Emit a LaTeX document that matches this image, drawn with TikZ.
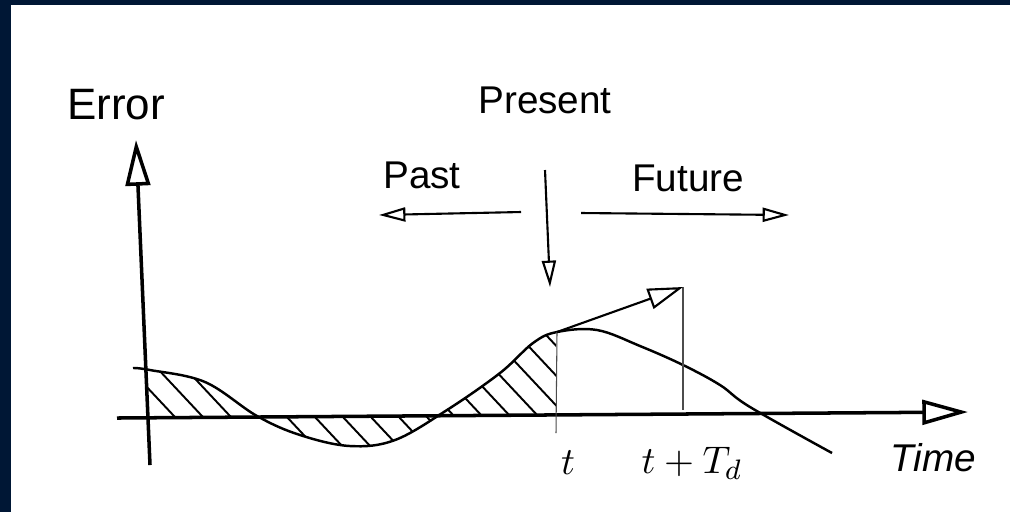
\documentclass[tikz,border=0pt]{standalone}
\usepackage{fontspec}
\setmainfont{Liberation Sans}
\usetikzlibrary{arrows.meta}
\definecolor{frame}{HTML}{001735}

\begin{document}
\begin{tikzpicture}[
    x=0.01cm, y=-0.01cm,
    font=\fontsize{11}{13}\selectfont,
    axis/.style={line width=1pt,
                 -{Triangle[open, length=13pt, width=7pt, line width=1pt]}},
    timearrow/.style={line width=0.6pt,
                 -{Triangle[open, length=7.5pt, width=4pt, line width=0.6pt]}},
    tangent/.style={line width=0.6pt,
                 -{Triangle[open, length=10pt, width=6pt, line width=0.6pt]}},
    curve/.style={line width=0.7pt},
    hatch/.style={line width=0.55pt},
    marker/.style={line width=0.3pt, black!70},
    label/.style={inner sep=0pt},
]

\def\errcurve{plot[smooth, tension=0.6] coordinates {
    (133,368) (150,370) (205,382) (257,416) (300,435) (350,446)
    (395,440) (447,410) (500,373) (533,343) (557,332) (597,330)
    (640,346) (683,365) (720,385) (750,407) (832,453)}}

% ── frame (top and left bars only) ──
\useasboundingbox (0,0) rectangle (1010,511);
\fill[white] (0,0) rectangle (1010,511);
\fill[frame] (-5,-5) rectangle (1020,5);
\fill[frame] (-5,-5) rectangle (11,520);

% ── axes ──
\coordinate (yfoot) at (150,465);
\coordinate (ytip)  at (136,140);
\coordinate (xfoot) at (117,418);
\coordinate (xtip)  at (968,412);
\draw[axis] (yfoot) -- (ytip);
\draw[axis] (xfoot) -- (xtip);

% ── hatched error area up to now ──
\begin{scope}
    \clip (148,300) rectangle (556,470);
    \clip \errcurve -- (832,413) -- (133,418) -- cycle;
    \foreach \h in {0,28,...,560} {
        \draw[hatch] (\h,320) -- +(150,160);
    }
\end{scope}

\draw[curve] \errcurve;

% ── present, past, future ──
\coordinate (now)  at (557,332);
\coordinate (pred) at (683,287);
\coordinate (nowfoot)  at (556,433);
\coordinate (predfoot) at (683,410);
\draw[marker] (now) -- (nowfoot);
\draw[marker] (pred) -- (predfoot);
\draw[tangent] (now) -- (pred);

\coordinate (pastfrom) at (521,212);
\coordinate (pasttip)  at (379,215);
\coordinate (futfrom)  at (581,213);
\coordinate (futtip)   at (789,215);
\coordinate (presfrom) at (545,170);
\coordinate (prestip)  at (550,287);
\draw[timearrow] (pastfrom) -- (pasttip);
\draw[timearrow] (futfrom) -- (futtip);
\draw[timearrow] (presfrom) -- (prestip);

% ── labels ──
\node[label] (err)  at (116,105) {\fontsize{12.5}{14}\selectfont Error};
\node[label] (pres) at (545,100) {Present};
\node[label] (past) at (422,175) {Past};
\node[label] (fut)  at (688,178) {Future};
\node[label] (tnow) at (568,463) {$t$};
\node[label] (tpre) at (692,463) {$t+T_d$};
\node[label] (time) at (933,458) {\itshape Time};

\end{tikzpicture}
\end{document}
